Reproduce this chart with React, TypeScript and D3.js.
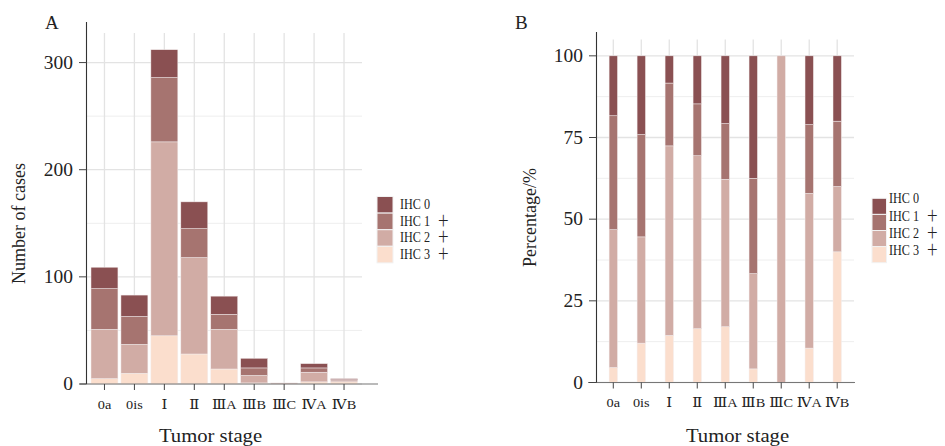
import React from "react";
import * as d3 from "d3";

const stages = ["0a", "0is", "Ⅰ", "Ⅱ", "ⅢA", "ⅢB", "ⅢC", "ⅣA", "ⅣB"];
const ihc0 = [20, 20, 26, 25, 17, 9, 0, 4, 1];
const ihc1 = [38, 26, 60, 27, 14, 7, 0, 4, 1];
const ihc2 = [46, 27, 181, 90, 37, 7, 1, 9, 1];
const ihc3 = [5, 10, 45, 28, 14, 1, 0, 2, 2];
const seriesNames = ["IHC 0", "IHC 1＋", "IHC 2＋", "IHC 3＋"];
const seriesColors = ["#8a5052", "#a67470", "#d1aca5", "#fbdecd"];
const countTicks = [0, 100, 200, 300];
const pctTicks = [0, 25, 50, 75, 100];

const FONT = "'Liberation Serif', 'Times New Roman', serif";
const ROMAN = "'DejaVu Serif', serif";
const CJK = "'Noto Sans CJK SC', 'Noto Sans CJK JP', sans-serif";

type Row = { stage: string; IHC0: number; IHC1: number; IHC2: number; IHC3: number };

const rows: Row[] = stages.map((s, i) => ({
  stage: s,
  IHC0: ihc0[i],
  IHC1: ihc1[i],
  IHC2: ihc2[i],
  IHC3: ihc3[i],
}));
const pctRows: Row[] = rows.map((r) => {
  const t = r.IHC0 + r.IHC1 + r.IHC2 + r.IHC3;
  return {
    stage: r.stage,
    IHC0: (r.IHC0 / t) * 100,
    IHC1: (r.IHC1 / t) * 100,
    IHC2: (r.IHC2 / t) * 100,
    IHC3: (r.IHC3 / t) * 100,
  };
});
const keys = ["IHC3", "IHC2", "IHC1", "IHC0"];
const keyColor: Record<string, string> = {
  IHC0: seriesColors[0],
  IHC1: seriesColors[1],
  IHC2: seriesColors[2],
  IHC3: seriesColors[3],
};

type Seg = { t: string; kind: "latin" | "roman" | "plus" };
function segments(s: string): Seg[] {
  const out: Seg[] = [];
  for (const ch of s) {
    const c = ch.codePointAt(0) as number;
    const kind: Seg["kind"] =
      c >= 0x2160 && c <= 0x217f ? "roman" : c === 0xff0b ? "plus" : "latin";
    const last = out[out.length - 1];
    if (last && last.kind === kind) last.t += ch;
    else out.push({ t: ch, kind });
  }
  return out;
}

function Label({
  s,
  romanSize,
  plusSize,
  plusDx = 0,
}: {
  s: string;
  romanSize?: number;
  plusSize?: number;
  plusDx?: number;
}) {
  return (
    <>
      {segments(s).map((seg, i) => (
        <tspan
          key={i}
          fontFamily={seg.kind === "roman" ? ROMAN : seg.kind === "plus" ? CJK : FONT}
          fontSize={
            seg.kind === "roman" ? romanSize : seg.kind === "plus" ? plusSize : undefined
          }
          dx={seg.kind === "plus" ? plusDx : undefined}
        >
          {seg.t}
        </tspan>
      ))}
    </>
  );
}

type PanelProps = {
  data: Row[];
  left: number;
  right: number;
  top: number;
  bottom: number;
  yMax: number;
  ticks: number[];
  minorStep: number;
  barFrac: number;
  axisTop: number;
  axisXStart: number;
  axisXEnd: number;
  tickLabelRight: number;
  xLabelBaseline: number;
  xTitleX: number;
  yTitleX: number;
  yTitleY: number;
  yTitle: string;
  panelLabel: string;
  panelLabelX: number;
  legendX: number;
  legendY: number;
  legendSq: number;
  legendStep: number;
  legendTextX: number;
  legendTextDy: number;
  legendTextStep: number;
};

function Panel(p: PanelProps) {
  const x = d3
    .scalePoint<string>()
    .domain(stages)
    .range([p.left, p.right])
    .padding(0.6);
  const step = x.step();
  const bw = step * p.barFrac;
  const y = d3.scaleLinear().domain([0, p.yMax]).range([p.bottom, p.top]);
  const stacked = d3.stack<Row>().keys(keys)(p.data);
  const minor = d3
    .range(p.minorStep, p.yMax, p.minorStep)
    .filter((v) => !p.ticks.includes(v));

  return (
    <g>
      {minor.map((v) => (
        <line key={"mn" + v} x1={p.left} x2={p.right} y1={y(v)} y2={y(v)} stroke="#eeeeee" strokeWidth={1} />
      ))}
      {p.ticks.map((v) => (
        <line key={"mj" + v} x1={p.left} x2={p.right} y1={y(v)} y2={y(v)} stroke="#e3e3e3" strokeWidth={1.3} />
      ))}
      {stages.map((s) => (
        <line key={"vg" + s} x1={x(s)} x2={x(s)} y1={p.top} y2={p.bottom} stroke="#e3e3e3" strokeWidth={1.3} />
      ))}
      {stacked.map((layer) => (
        <g key={layer.key} fill={keyColor[layer.key]}>
          {layer.map((d, i) =>
            d[1] - d[0] > 0 ? (
              <rect
                key={i}
                x={(x(stages[i]) as number) - bw / 2}
                y={y(d[1])}
                width={bw}
                height={y(d[0]) - y(d[1])}
                stroke="#f4eeee"
                strokeWidth={0.5}
              />
            ) : null
          )}
        </g>
      ))}
      <line x1={p.axisXStart} x2={p.axisXEnd} y1={p.bottom} y2={p.bottom} stroke="#777" strokeWidth={1.2} />
      <line x1={p.left} x2={p.left} y1={p.axisTop} y2={p.bottom} stroke="#333" strokeWidth={1.1} />
      {p.ticks.map((v) => (
        <g key={"yt" + v}>
          <line x1={p.left - 7.5} x2={p.left} y1={y(v)} y2={y(v)} stroke="#444" strokeWidth={1} />
          <text
            transform={`translate(${p.tickLabelRight},${y(v)}) scale(1.08,1)`}
            dy="0.35em"
            textAnchor="end"
            fontSize={18}
            fontFamily={FONT}
            fill="#222"
          >
            {v}
          </text>
        </g>
      ))}
      {stages.map((s) => (
        <g key={"xt" + s}>
          <line x1={x(s)} x2={x(s)} y1={p.bottom} y2={p.bottom + 6} stroke="#444" strokeWidth={1} />
          <text
            transform={`translate(${x(s)},${p.xLabelBaseline}) scale(1.1,1)`}
            textAnchor="middle"
            fontSize={13}
            fontFamily={FONT}
            fill="#222"
          >
            <Label s={s} romanSize={13.5} />
          </text>
        </g>
      ))}
      <text
        transform={`translate(${p.xTitleX},441.5) scale(1.15,1)`}
        textAnchor="middle"
        fontSize={18}
        fontFamily={FONT}
        fill="#222"
      >
        Tumor stage
      </text>
      <text
        transform={`translate(${p.yTitleX},${p.yTitleY}) rotate(-90)`}
        textAnchor="middle"
        fontSize={18}
        fontFamily={FONT}
        fill="#222"
      >
        {p.yTitle}
      </text>
      <text x={p.panelLabelX} y={28.5} fontSize={19} fontFamily={FONT} fill="#222">
        {p.panelLabel}
      </text>
      {seriesNames.map((n, i) => (
        <g key={n}>
          <rect
            x={p.legendX}
            y={p.legendY + i * p.legendStep}
            width={p.legendSq}
            height={p.legendStep}
            fill={seriesColors[i]}
            stroke="#f2f2f2"
            strokeWidth={1}
          />
          <text
            transform={`translate(${p.legendTextX},${p.legendY + p.legendTextDy + i * p.legendTextStep}) scale(0.81,1)`}
            fontSize={15}
            fontFamily={FONT}
            fill="#222"
          >
            <Label s={n} plusSize={15} plusDx={9} />
          </text>
        </g>
      ))}
    </g>
  );
}

export default function App() {
  const total = rows.map((r) => r.IHC0 + r.IHC1 + r.IHC2 + r.IHC3);
  const maxTotal = d3.max(total) as number;
  return (
    <svg
      width={945}
      height={446}
      style={{ position: "absolute", left: 0, top: 0, background: "#fff" }}
    >
      <rect width={945} height={446} fill="#fff" />
      <Panel
        data={rows}
        left={86.5}
        right={362}
        top={33}
        bottom={384}
        yMax={maxTotal * 1.05}
        ticks={countTicks}
        minorStep={50}
        barFrac={0.9}
        axisTop={22}
        axisXStart={80}
        axisXEnd={378}
        tickLabelRight={73}
        xLabelBaseline={409}
        xTitleX={210.5}
        yTitleX={25}
        yTitleY={223.5}
        yTitle="Number of cases"
        panelLabel="A"
        panelLabelX={45}
        legendX={377}
        legendY={196.5}
        legendSq={16}
        legendStep={16.6}
        legendTextX={400}
        legendTextDy={12.5}
        legendTextStep={16.6}
      />
      <Panel
        data={pctRows}
        left={596.5}
        right={854}
        top={39.5}
        bottom={382.5}
        yMax={105}
        ticks={pctTicks}
        minorStep={12.5}
        barFrac={0.3}
        axisTop={32}
        axisXStart={588}
        axisXEnd={855}
        tickLabelRight={583}
        xLabelBaseline={406.5}
        xTitleX={737.5}
        yTitleX={536}
        yTitleY={217.5}
        yTitle="Percentage/%"
        panelLabel="B"
        panelLabelX={515}
        legendX={872}
        legendY={198.3}
        legendSq={14.5}
        legendStep={16.1}
        legendTextX={889}
        legendTextDy={5}
        legendTextStep={17.2}
      />
    </svg>
  );
}
